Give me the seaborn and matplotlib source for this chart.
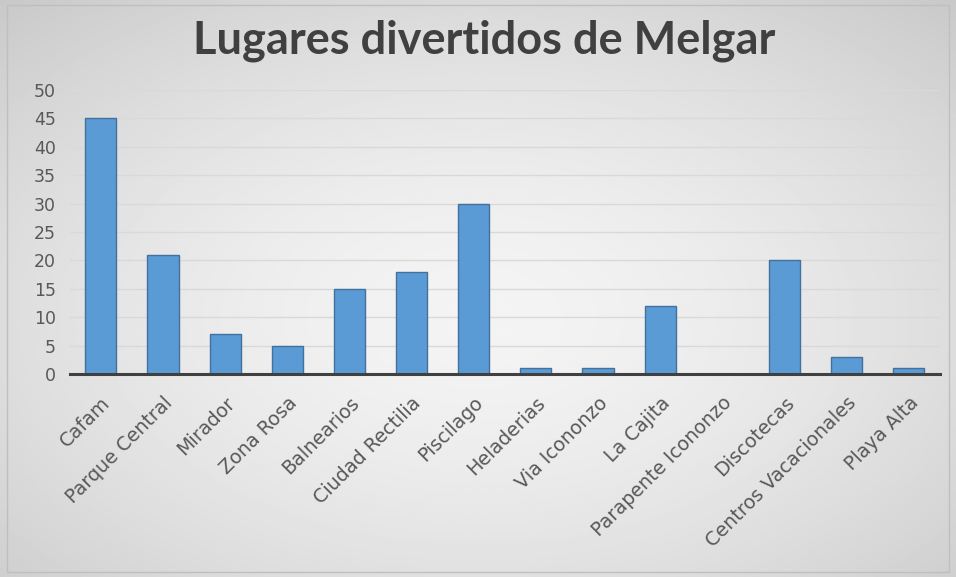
import matplotlib

matplotlib.use("Agg")
import matplotlib.pyplot as plt
import numpy as np
import pandas as pd
import seaborn as sns
from matplotlib.patches import Rectangle

lugares = [
    "Cafam", "Parque Central", "Mirador", "Zona Rosa", "Balnearios",
    "Ciudad Rectilia", "Piscilago", "Heladerias", "Via Icononzo", "La Cajita",
    "Parapente Icononzo", "Discotecas", "Centros Vacacionales", "Playa Alta",
]
votos = [45, 21, 7, 5, 15, 18, 30, 1, 1, 12, 0, 20, 3, 1]
y_ticks = [0, 5, 10, 15, 20, 25, 30, 35, 40, 45, 50]

df = pd.DataFrame({"lugar": lugares, "votos": votos})

sns.set_theme(style="white")
plt.rcParams["font.family"] = ["DejaVu Sans"]

fig = plt.figure(figsize=(9.56, 5.77), dpi=100)

# radial grey gradient behind everything, like the Excel chart style
bg = fig.add_axes([0, 0, 1, 1], zorder=0)
yy, xx = np.mgrid[0:1:300j, 0:1:500j]
r = np.sqrt(((xx - 0.5) / 0.75) ** 2 + ((yy - 0.45) / 0.75) ** 2)
shade = np.clip(0.955 - 0.17 * r ** 1.6, 0, 1)
bg.imshow(shade, cmap="gray", vmin=0, vmax=1, aspect="auto",
          extent=(0, 1, 0, 1), origin="lower")
bg.set_axis_off()

ax = fig.add_axes([0.073, 0.352, 0.91, 0.492], zorder=1)
ax.patch.set_alpha(0)
sns.barplot(data=df, x="lugar", y="votos", color="#5B9BD5", width=0.5,
            edgecolor="#41719C", linewidth=1.0, saturation=1, ax=ax)

ax.set_ylim(0, 50)
ax.set_yticks(y_ticks)
ax.set_xlim(-0.5, len(lugares) - 0.5)
ax.yaxis.grid(True, color="#D9D9D9", linewidth=1)
ax.set_axisbelow(True)
for s in ["top", "right", "left"]:
    ax.spines[s].set_visible(False)
ax.spines["bottom"].set_color("#404040")
ax.spines["bottom"].set_linewidth(2.2)
ax.set_xlabel("")
ax.set_ylabel("")
ax.tick_params(axis="both", length=0, colors="#595959")
ax.tick_params(axis="y", pad=10, labelsize=12.5)
ax.set_xticks(range(len(lugares)))
ax.set_xticklabels(lugares, rotation=45, ha="right", rotation_mode="anchor")
ax.tick_params(axis="x", pad=14, labelsize=13.8)

fig.text(0.506, 0.93, "Lugares divertidos de Melgar", ha="center", va="center",
         fontsize=32.5, fontweight="bold", color="#404040", family=["Lato", "DejaVu Sans"])

fig.add_artist(Rectangle((0.007, 0.008), 0.986, 0.984, transform=fig.transFigure,
                         fill=False, edgecolor="#BFBFBF", linewidth=1))

fig.savefig("out.png", dpi=100)
plt.close(fig)
